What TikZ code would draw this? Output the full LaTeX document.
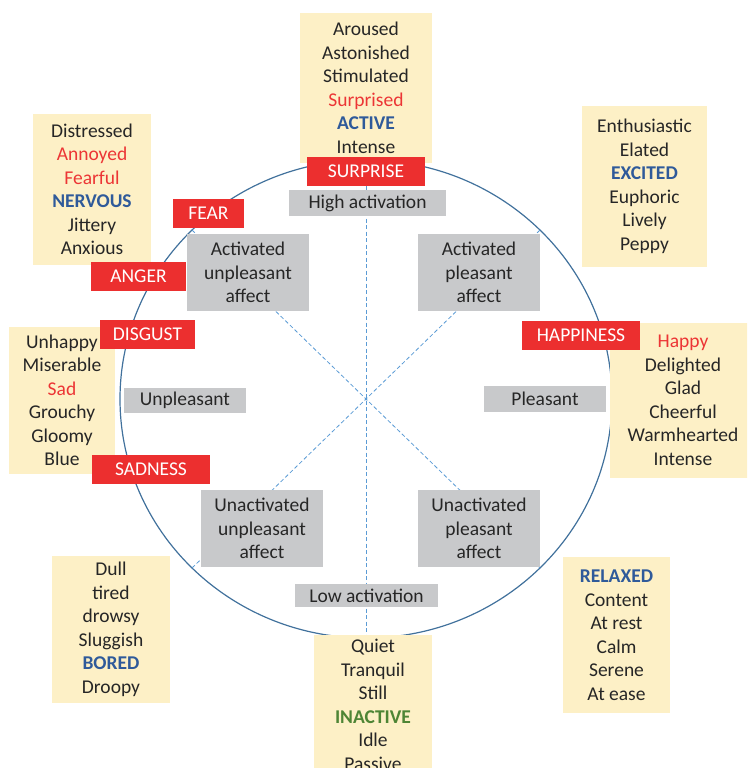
\documentclass[tikz,border=0pt]{standalone}
\usepackage{fontspec}
\setmainfont{Carlito}
\definecolor{wordbg}{HTML}{FDF0C6}
\definecolor{emored}{HTML}{EC2F2F}
\definecolor{zonegray}{HTML}{C8C9CB}
\definecolor{ink}{HTML}{262626}
\definecolor{wordred}{HTML}{EC3535}
\definecolor{keyblue}{HTML}{2F5A9A}
\definecolor{keygreen}{HTML}{4E8535}
\definecolor{rimblue}{HTML}{41719C}
\definecolor{axisblue}{HTML}{5B9BD5}
\newcommand{\hot}[1]{\textcolor{wordred}{#1}}
\newcommand{\keyword}[1]{\textcolor{keyblue}{\bfseries #1}}

\begin{document}
\begin{tikzpicture}[x=1pt,y=-1pt,
    every node/.style={font=\fontsize{19.5}{23.5}\selectfont,text=ink,align=center,inner sep=0pt},
    words/.style={fill=wordbg,draw=none},
    emotion/.style={fill=emored,draw=none},
    zone/.style={fill=zonegray,draw=none},
    rim/.style={draw=rimblue,line width=1.2pt},
    axis/.style={draw=axisblue,line width=0.8pt,dash pattern=on 4pt off 2.5pt}]
  \useasboundingbox (0,0) rectangle (747,768);
  \clip (0,0) rectangle (747,768);
  % circle and axes
  \coordinate (c) at (366,399);
  \coordinate (top) at (366,160);
  \coordinate (bot) at (366,638);
  \coordinate (ne) at (540,230);
  \coordinate (nw) at (192,230);
  \coordinate (sw) at (192,568);
  \coordinate (se) at (540,568);
  \draw[rim] (c) ellipse [x radius=246,y radius=239];
  \draw[axis] (top) -- (bot);
  \draw[axis] (nw) -- (se);
  \draw[axis] (sw) -- (ne);
  % word lists
  \filldraw[words] (300,13) rectangle node (listtop) {Aroused\\Astonished\\Stimulated\\\hot{Surprised}\\\keyword{ACTIVE}\\Intense} (432,163);
  \filldraw[words] (33,114) rectangle node (listtl) {Distressed\\\hot{Annoyed}\\\hot{Fearful}\\\keyword{NERVOUS}\\Jittery\\Anxious} (151,265);
  \filldraw[words] (582,106) rectangle node (listtr) {Enthusiastic\\Elated\\\keyword{EXCITED}\\Euphoric\\Lively\\Peppy} (707,267);
  \filldraw[words] (9,327) rectangle node (listl) {Unhappy\\Miserable\\\hot{Sad}\\Grouchy\\Gloomy\\Blue} (115,474);
  \filldraw[words] (610,323) rectangle node (listr) {\hot{Happy}\\Delighted\\Glad\\Cheerful\\Warmhearted\\Intense} (756,478);
  \filldraw[words] (52,556) rectangle node (listbl) {Dull\\tired\\drowsy\\Sluggish\\\keyword{BORED}\\Droopy} (170,703);
  \filldraw[words] (563,557) rectangle node (listbr) {\keyword{RELAXED}\\Content\\At rest\\Calm\\Serene\\At ease} (670,713);
  \filldraw[words] (314,635) rectangle node (listb) {Quiet\\Tranquil\\Still\\\textcolor{keygreen}{\bfseries INACTIVE}\\Idle\\Passive} (432,775);
  % emotions
  \filldraw[emotion] (307,157) rectangle node[text=white] (surprise) {SURPRISE} (425,186);
  \filldraw[emotion] (173,199) rectangle node[text=white] (fear) {FEAR} (244,228);
  \filldraw[emotion] (91,262) rectangle node[text=white] (anger) {ANGER} (186,291);
  \filldraw[emotion] (100,320) rectangle node[text=white] (disgust) {DISGUST} (195,349);
  \filldraw[emotion] (92,455) rectangle node[text=white] (sadness) {SADNESS} (210,484);
  \filldraw[emotion] (522,321) rectangle node[text=white] (happiness) {HAPPINESS} (640,350);
  % affect zones
  \filldraw[zone] (289,190) rectangle node (highact) {High activation} (446,216);
  \filldraw[zone] (295,584) rectangle node (lowact) {Low activation} (438,607);
  \filldraw[zone] (124,388) rectangle node (unpleasant) {Unpleasant} (246,413);
  \filldraw[zone] (484,386) rectangle node (pleasant) {Pleasant} (606,412);
  \filldraw[zone] (187,234) rectangle node (actunpl) {Activated\\unpleasant\\affect} (309,311);
  \filldraw[zone] (418,234) rectangle node (actpl) {Activated\\pleasant\\affect} (540,311);
  \filldraw[zone] (201,490) rectangle node (unactunpl) {Unactivated\\unpleasant\\affect} (323,567);
  \filldraw[zone] (418,490) rectangle node (unactpl) {Unactivated\\pleasant\\affect} (540,567);
\end{tikzpicture}
\end{document}
